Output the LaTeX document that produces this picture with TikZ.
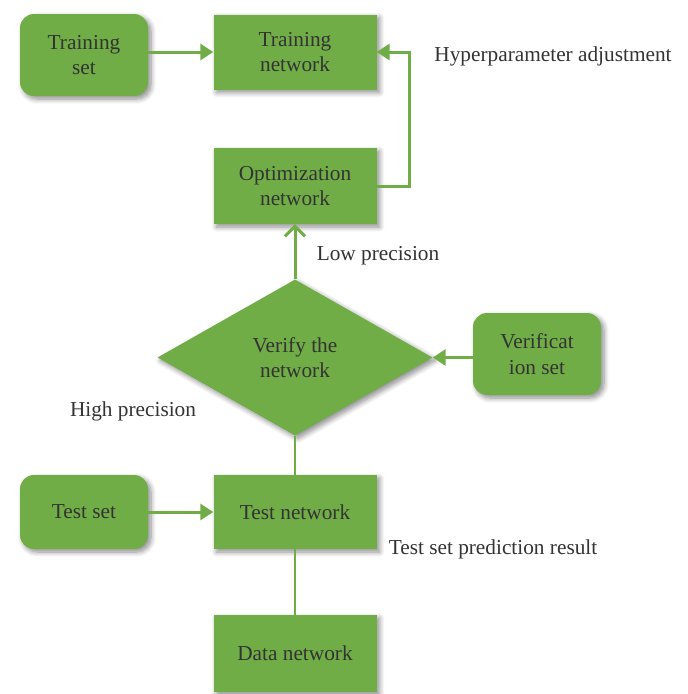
\documentclass[tikz,border=0pt]{standalone}
\usepackage{fontspec}
\setmainfont{Liberation Serif}
\usetikzlibrary{shapes.geometric,arrows.meta,shadows.blur}
\definecolor{gr}{HTML}{70AD47}
\definecolor{tx}{HTML}{333333}
\begin{document}
\begin{tikzpicture}[x=1pt,y=-1pt,
  font=\fontsize{21.3}{25.5}\selectfont,
  shad/.style={blur shadow={shadow xshift=3pt,shadow yshift=-3pt,shadow blur steps=8,shadow blur radius=5pt,shadow opacity=45}},
  box/.style={shad,fill=gr,text=tx,minimum width=163pt,minimum height=76pt,inner sep=0pt,align=center},
  rbox/.style={box,rounded corners=14pt,minimum width=128pt,minimum height=82pt},
  dbox/.style={shad,diamond,fill=gr,text=tx,minimum width=275pt,minimum height=156pt,inner sep=0pt,align=center},
  conn/.style={draw=gr,line width=3pt,-{Triangle[length=13pt,width=16pt]}},
  openconn/.style={draw=gr,line width=3pt,-{Straight Barb[length=10pt,width=20pt,line width=3pt]}},
  plain/.style={draw=gr,line width=2pt},
  lbl/.style={text=tx,inner sep=0pt}
]
\useasboundingbox (0,0) rectangle (688,694);
\node[rbox] (ts) at (84,55) {Training\\set};
\node[box,minimum height=75pt] (tn) at (295,52) {Training\\network};
\node[box] (on) at (295,186) {Optimization\\network};
\node[dbox] (dm) at (295,357.5) {Verify the\\network};
\node[rbox] (vs) at (537,354) {Verificat\\ion set};
\node[rbox,minimum height=74pt] (tset) at (84,512) {Test set};
\node[box,minimum height=74pt] (tnet) at (295,512) {Test network};
\node[box,minimum height=77pt] (dn) at (295,653.5) {Data network};

\node[lbl] (hyp) at (553,56) {Hyperparameter adjustment};
\node[lbl] (low) at (378,256) {Low precision};
\node[lbl] (high) at (133,411) {High precision};
\node[lbl] (pred) at (493,549) {Test set prediction result};

\draw[conn] (tn.west -| ts.east) -- (tn.west);
\draw[conn] (on.east) -- ++(33,0) |- (tn.east);
\draw[openconn] (dm.north) -- (on.south);
\draw[conn] (dm.east -| vs.west) -- (dm.east);
\draw[plain] (dm.south) -- (tnet.north);
\draw[conn] (tset.east) -- (tnet.west);
\draw[plain] (tnet.south) -- (dn.north);
\end{tikzpicture}
\end{document}
